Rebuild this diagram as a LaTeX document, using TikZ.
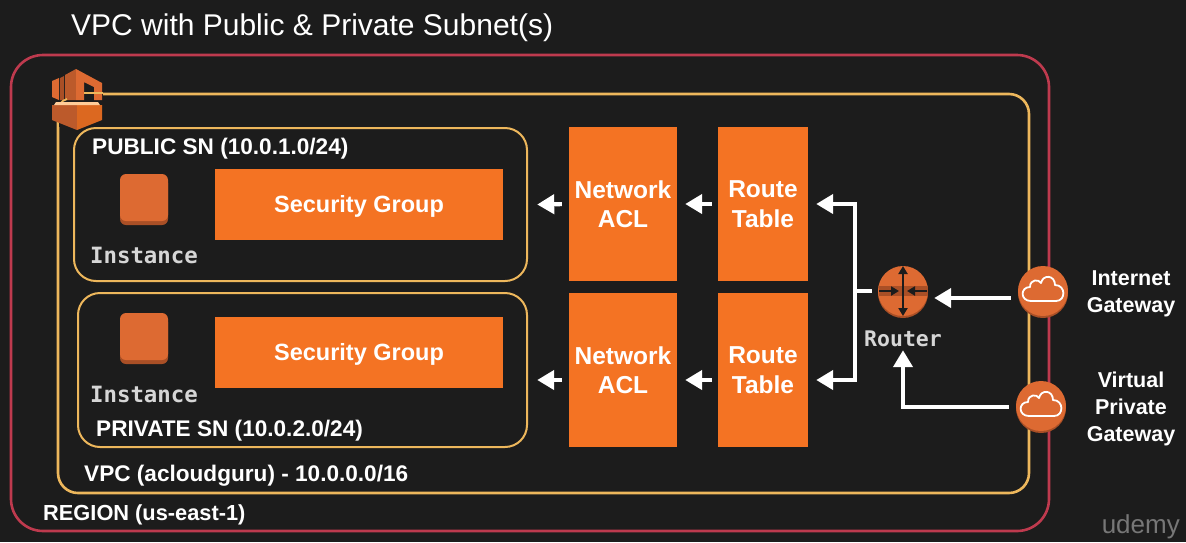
\documentclass[tikz,border=0pt]{standalone}
\usepackage{fontspec}
\setmainfont{Liberation Sans}
\newfontfamily\monof{DejaVu Sans Mono}
\usetikzlibrary{arrows.meta,calc}
\definecolor{bg}{HTML}{1C1C1C}
\definecolor{org}{HTML}{F47323}
\definecolor{iconorg}{HTML}{DD6A32}
\definecolor{icondark}{HTML}{A94F26}
\definecolor{regionc}{HTML}{BE3A4E}
\definecolor{vpcc}{HTML}{EDB75C}
\definecolor{ltgrey}{HTML}{D6D6D6}
\tikzset{
  x=1pt,y=-1pt,
  frame/.style={draw,rounded corners=#1,line width=2.6pt,fill=none},
  box/.style={fill=org,text=white,font=\fontsize{24.5}{29.5}\selectfont\bfseries,align=center,inner sep=0pt,minimum width=#1},
  sgbox/.style={fill=org,text=white,font=\fontsize{23.5}{29}\selectfont\bfseries,inner sep=0pt,minimum width=288pt,minimum height=71pt,text height=15pt,text depth=0pt},
  lab/.style={text=white,font=\fontsize{22.6}{26}\selectfont\bfseries,inner sep=0pt,anchor=west},
  mono/.style={text=ltgrey,font=\monof\bfseries\fontsize{22.4}{26}\selectfont,inner sep=0pt},
  gw/.style={text=white,font=\fontsize{21.5}{27}\selectfont\bfseries,align=center,inner sep=0pt},
  flow/.style={draw=white,line width=4.2pt,-{Triangle[length=17pt,width=19pt]}},
  flowplain/.style={draw=white,line width=4.2pt},
  instbox/.style={fill=iconorg,rounded corners=6pt,minimum width=48pt,minimum height=50pt,inner sep=0pt}
}
\newcommand{\cloudicon}[2]{%
  \begin{scope}[shift={(#1,#2)}]
    \fill[icondark] (0,2) circle (25);
    \fill[iconorg] (0,0) circle (25);
    \draw[white,line width=1.8pt,line join=round,fill=none] (-12,10) .. controls (-23,10) and (-23,-4) .. (-13,-4)
      .. controls (-13,-12) and (-4,-12) .. (-2,-8) .. controls (0,-17) and (12,-16) .. (12,-6)
      .. controls (23,-6) and (23,10) .. (13,10) -- cycle;
  \end{scope}}
\begin{document}
\begin{tikzpicture}
\useasboundingbox (0,0) rectangle (1186,542);
\clip (0,0) rectangle (1186,542);
\fill[bg] (0,0) rectangle (1186,542);

\node[anchor=west,text=white,inner sep=0pt,font=\fontsize{30}{34}\selectfont] (title) at (71,28) {VPC with Public \& Private Subnet(s)};

% frames
\draw[frame=32pt,regionc] (11,55) rectangle (1049,531);
\draw[frame=20pt,vpcc] (58,94) rectangle (1029,493);
\draw[frame=22pt,vpcc,line width=2pt] (74,128) rectangle (527,281);
\draw[frame=22pt,vpcc,line width=2pt] (78,293) rectangle (527,447);

% VPC logo
\fill[bg] (50,66) rectangle (103,122);
\fill[bg] (59,122) -- (103,122) -- (103,127) -- (59,127) -- cycle;
\fill[iconorg] (52,81) -- (59,78) -- (59,100) -- (52,97) -- cycle;
\fill[icondark] (60,78) -- (64,76) -- (64,100) -- (60,100) -- cycle;
\fill[iconorg!85!black] (65,75) -- (76,69) -- (76,100) -- (65,100) -- cycle;
\fill[iconorg] (76,69) -- (102,83) -- (102,100) -- (94,100) -- (94,87) -- (84,82) -- (84,100) -- (76,100) -- cycle;
\draw[vpcc,line width=2.4pt] (84,93) -- (103,93);
\draw[vpcc,line width=1.8pt] (60,104) .. controls (62,101) and (64,100) .. (67,99);
\fill[iconorg!85!black] (52,105) -- (77,105) -- (77,130) -- (52,120) -- cycle;
\fill[org!90!black] (77,105) -- (102,105) -- (102,120) -- (77,130) -- cycle;
\fill[orange!40!white] (56,102) -- (98,102) -- (100,105) -- (54,105) -- cycle;

% text labels
\node[lab] (pub) at (92,149) {PUBLIC SN (10.0.1.0/24)};
\node[lab] (priv) at (96,431) {PRIVATE SN (10.0.2.0/24)};
\node[lab] (vpc) at (84,476) {VPC (acloudguru) - 10.0.0.0/16};
\node[lab,font=\fontsize{21.8}{26}\selectfont\bfseries] (reg) at (43,515) {REGION (us-east-1)};

% instances
\fill[icondark,rounded corners=6pt] (120,177) rectangle (168,225);
\node[instbox,minimum height=47pt] (i1) at (144,197.5) {};
\fill[icondark,rounded corners=6pt] (120,316) rectangle (168,364);
\node[instbox,minimum height=47pt] (i2) at (144,336.5) {};
\node[mono] (il1) at (144,255) {Instance};
\node[mono] (il2) at (144,394) {Instance};

% boxes
\node[sgbox] (sg1) at (359,204.5) {Security Group};
\node[sgbox] (sg2) at (359,352.5) {Security Group};
\node[box=108pt,minimum height=154pt] (na1) at (623,204) {Network\\ACL};
\node[box=108pt,minimum height=154pt] (na2) at (623,370) {Network\\ACL};
\node[box=90pt,minimum height=154pt] (rt1) at (763,204) {Route\\Table};
\node[box=90pt,minimum height=154pt] (rt2) at (763,370) {Route\\Table};

% router
\fill[icondark] (903,293) circle (25);
\node[circle,fill=iconorg,minimum size=50pt,inner sep=0pt] (rtr) at (903,291) {};
\fill[icondark] (878.5,286) rectangle (927.5,296);
\begin{scope}[bg,line width=2pt,>={Triangle[length=8pt,width=9pt]}]
  \draw[<->] (903,266) -- (903,316);
  \draw[->] (879,291) -- (899,291);
  \draw[->] (927,291) -- (907,291);
\end{scope}
\node[mono,font=\monof\bfseries\fontsize{21.5}{26}\selectfont] (rl) at (903,339) {Router};

% gateways
\cloudicon{1043}{291}
\cloudicon{1041}{406}
\node[circle,minimum size=50pt,inner sep=0pt] (igw) at (1043,291) {};
\node[circle,minimum size=50pt,inner sep=0pt] (vgw) at (1041,406) {};
\node[gw] (igwl) at (1131,294) {Internet\\Gateway};
\node[gw] (vgwl) at (1131,409) {Virtual\\Private\\Gateway};
\node[text=white!40!bg,inner sep=0pt,anchor=base east,font=\fontsize{26}{30}\selectfont] (ud) at (1180,533) {udemy};

% connectors
\draw[flow,shorten <=6pt,shorten >=8pt] (rt1.west) -- (na1.east);
\draw[flow,shorten <=7pt] (na1.west) -- ([xshift=34pt]sg1.east);
\draw[flow,shorten <=6pt,shorten >=8pt] ([yshift=-10pt]rt2.west) -- ([yshift=-10pt]na2.east);
\draw[flow,shorten <=7pt] ([yshift=-10pt]na2.west) -- ([xshift=34pt,yshift=-27.5pt]sg2.east);
\draw[flowplain,shorten <=6pt] (rtr.west) -- (855,291);
\draw[flow,shorten >=8pt] (855,291) |- (rt1.east);
\draw[flow,shorten >=8pt] (855,291) |- ([yshift=-10pt]rt2.east);
\draw[flow,shorten <=7pt,shorten >=4pt] ([yshift=-7pt]igw.west) -- ([yshift=-7pt,xshift=2pt]rtr.east);
\draw[flow,shorten <=7pt] ([yshift=-1pt]vgw.west) -| ([yshift=-34pt]rtr.south);
\end{tikzpicture}
\end{document}
